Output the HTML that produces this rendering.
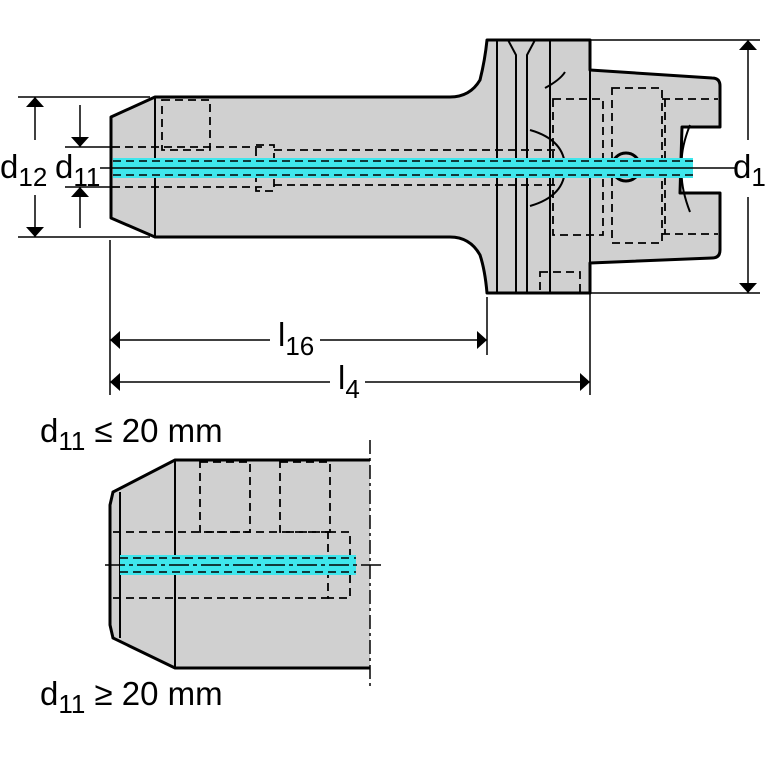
<!DOCTYPE html>
<html><head><meta charset="utf-8"><style>
html,body{margin:0;padding:0;background:#fff;}
svg{display:block;font-family:"Liberation Sans",sans-serif;}
</style></head><body>
<svg width="767" height="767" viewBox="0 0 767 767" xmlns="http://www.w3.org/2000/svg">
<defs>
<marker id="b" viewBox="0 0 10 10" refX="10" refY="5" markerWidth="10" markerHeight="18" markerUnits="userSpaceOnUse" orient="auto-start-reverse" preserveAspectRatio="none"><path d="M0,0 L10,5 L0,10 z" fill="#000"/></marker>
</defs>
<g stroke="#000" fill="#d0d0d0" stroke-width="3" stroke-linejoin="round">
<path d="M111,117 L155,97 L450,97 Q470,97 480,80 Q485,60 487,40 L590,40 L590,70 L712,78 Q720,78 720,86 L720,127 L682,127 L680,193 L720,193 L720,250 Q720,258 712,258 L590,263 L590,293 L487,293 Q485,270 480,255 Q470,237 450,237 L155,237 L111,218 Z"/>
</g>
<g stroke="#000" fill="none" stroke-width="2">
<line x1="155" y1="97" x2="155" y2="237"/>
<line x1="590" y1="70" x2="590" y2="263"/>
<line x1="497" y1="40" x2="497" y2="293"/>
<path d="M508,40 L516,55 L516,293 M535,40 L527,55 L527,293"/>
<line x1="550" y1="40" x2="550" y2="293"/>
<path d="M545,88 Q560,80 565,72"/>
<path d="M530,130 Q565,140 565,168 Q565,196 530,206"/>
<circle cx="626" cy="167" r="14" stroke-width="3"/>
<path d="M690,125 Q680,150 682,168 Q680,186 690,212" />
</g>
<g stroke="#000" fill="none" stroke-width="1.8" stroke-dasharray="8,5">
<rect x="162" y="100" width="48" height="50"/>
<line x1="112" y1="147" x2="262" y2="147"/><line x1="112" y1="187" x2="262" y2="187"/>
<rect x="256" y="145" width="18" height="46"/>
<line x1="274" y1="150" x2="560" y2="150"/><line x1="274" y1="185" x2="560" y2="185"/>
<rect x="553" y="99" width="50" height="136"/>
<rect x="612" y="88" width="50" height="155"/>
<line x1="662" y1="99" x2="718" y2="99"/><line x1="662" y1="234" x2="718" y2="234"/>
<line x1="665" y1="99" x2="665" y2="234"/>
<rect x="540" y="272" width="40" height="21"/>
</g>
<rect x="113" y="158" width="580" height="20" fill="#3fe6ec"/>
<g stroke="#000" stroke-width="1.6" fill="none">
<line x1="100" y1="168" x2="735" y2="168"/>
<line x1="113" y1="161" x2="693" y2="161" stroke-dasharray="8,5"/>
<line x1="113" y1="175" x2="693" y2="175" stroke-dasharray="8,5"/>
</g>
<g stroke="#000" stroke-width="1.5" fill="none">
<line x1="18" y1="97" x2="150" y2="97"/><line x1="18" y1="237" x2="150" y2="237"/>
<line x1="65" y1="147" x2="112" y2="147"/><line x1="65" y1="187" x2="112" y2="187"/>
<line x1="35" y1="97" x2="35" y2="140" marker-start="url(#b)"/>
<line x1="35" y1="195" x2="35" y2="237" marker-end="url(#b)"/>
<line x1="80" y1="105" x2="80" y2="147" marker-end="url(#b)"/>
<line x1="80" y1="187" x2="80" y2="228" marker-start="url(#b)"/>
<line x1="590" y1="40" x2="760" y2="40"/><line x1="590" y1="293" x2="760" y2="293"/>
<line x1="748" y1="40" x2="748" y2="140" marker-start="url(#b)"/>
<line x1="748" y1="197" x2="748" y2="293" marker-end="url(#b)"/>
<line x1="110" y1="240" x2="110" y2="395"/>
<line x1="487" y1="297" x2="487" y2="355"/>
<line x1="590" y1="293" x2="590" y2="395"/>
<line x1="110" y1="340" x2="270" y2="340" marker-start="url(#b)"/>
<line x1="320" y1="340" x2="487" y2="340" marker-end="url(#b)"/>
<line x1="110" y1="382" x2="330" y2="382" marker-start="url(#b)"/>
<line x1="365" y1="382" x2="590" y2="382" marker-end="url(#b)"/>
</g>
<g font-size="33" fill="#000">
<text x="0" y="178">d<tspan font-size="26" dy="8">12</tspan></text>
<text x="55" y="178">d<tspan font-size="26" dy="8">11</tspan></text>
<text x="733" y="178">d<tspan font-size="26" dy="8">1</tspan></text>
<text x="278" y="346">l<tspan font-size="26" dy="9">16</tspan></text>
<text x="338" y="389">l<tspan font-size="26" dy="9">4</tspan></text>
<text x="40" y="442">d<tspan font-size="26" dy="8">11</tspan><tspan dy="-8"> ≤ 20 mm</tspan></text>
<text x="40" y="705">d<tspan font-size="26" dy="8">11</tspan><tspan dy="-8"> ≥ 20 mm</tspan></text>
</g>
<path d="M370,460 L175,460 L113,492 L110,505 L110,625 L113,638 L175,668 L370,668" fill="#d0d0d0" stroke="#000" stroke-width="3"/>
<g stroke="#000" fill="none" stroke-width="2">
<line x1="120" y1="492" x2="120" y2="638"/>
<line x1="175" y1="460" x2="175" y2="668"/>
<line x1="370" y1="440" x2="370" y2="690" stroke-dasharray="14,4,3,4" stroke-width="1.5"/>
</g>
<g stroke="#000" fill="none" stroke-width="1.8" stroke-dasharray="8,5">
<rect x="200" y="462" width="50" height="70"/>
<rect x="280" y="462" width="50" height="70"/>
<line x1="113" y1="532" x2="330" y2="532"/><line x1="113" y1="598" x2="330" y2="598"/>
<rect x="328" y="532" width="22" height="66"/>
</g>
<rect x="120" y="555" width="236" height="20" fill="#3fe6ec"/>
<g stroke="#000" stroke-width="1.6" fill="none">
<line x1="105" y1="565" x2="385" y2="565" stroke-dasharray="20,4,4,4"/>
<line x1="120" y1="558" x2="356" y2="558" stroke-dasharray="8,5"/>
<line x1="120" y1="572" x2="356" y2="572" stroke-dasharray="8,5"/>
</g>
</svg>
</body></html>
